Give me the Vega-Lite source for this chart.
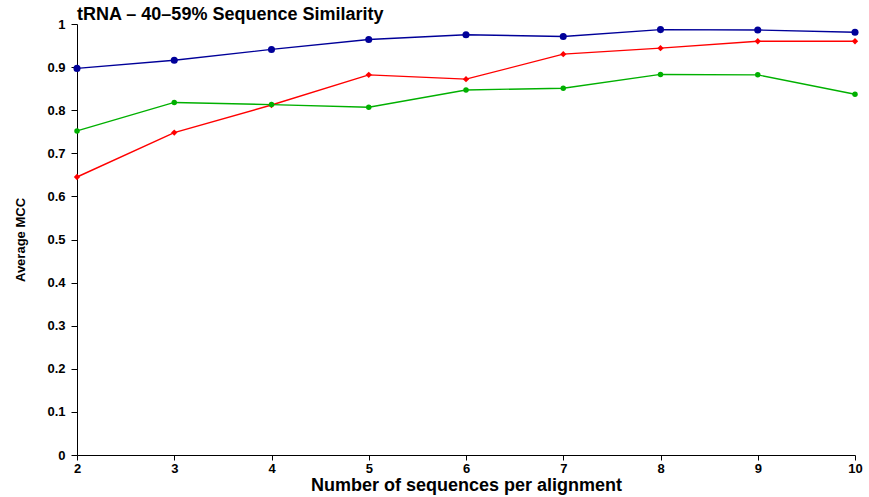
{
  "$schema": "https://vega.github.io/schema/vega-lite/v6.json",
  "width": 778,
  "height": 431,
  "autosize": {"type": "none"},
  "padding": {"left": 77, "top": 24, "right": 14, "bottom": 42},
  "background": "white",
  "title": {
    "text": "tRNA – 40–59% Sequence Similarity",
    "anchor": "start",
    "frame": "group",
    "dx": 0,
    "dy": 24,
    "offset": 4,
    "baseline": "alphabetic",
    "font": "Liberation Sans",
    "fontSize": 18,
    "fontWeight": "bold",
    "color": "black"
  },
  "config": {
    "view": {"stroke": null},
    "axis": {
      "labelFont": "Liberation Sans",
      "titleFont": "Liberation Sans",
      "labelFontWeight": "bold",
      "titleFontWeight": "bold",
      "labelColor": "black",
      "titleColor": "black",
      "domainColor": "black",
      "tickColor": "black",
      "grid": false
    }
  },
  "data": {
    "values": [
      {"n": 2, "series": "A", "mcc": 0.897},
      {"n": 3, "series": "A", "mcc": 0.916},
      {"n": 4, "series": "A", "mcc": 0.941},
      {"n": 5, "series": "A", "mcc": 0.964},
      {"n": 6, "series": "A", "mcc": 0.975},
      {"n": 7, "series": "A", "mcc": 0.971},
      {"n": 8, "series": "A", "mcc": 0.987},
      {"n": 9, "series": "A", "mcc": 0.986},
      {"n": 10, "series": "A", "mcc": 0.981},
      {"n": 2, "series": "B", "mcc": 0.645},
      {"n": 3, "series": "B", "mcc": 0.748},
      {"n": 4, "series": "B", "mcc": 0.812},
      {"n": 5, "series": "B", "mcc": 0.882},
      {"n": 6, "series": "B", "mcc": 0.872},
      {"n": 7, "series": "B", "mcc": 0.930},
      {"n": 8, "series": "B", "mcc": 0.944},
      {"n": 9, "series": "B", "mcc": 0.960},
      {"n": 10, "series": "B", "mcc": 0.960},
      {"n": 2, "series": "C", "mcc": 0.752},
      {"n": 3, "series": "C", "mcc": 0.818},
      {"n": 4, "series": "C", "mcc": 0.813},
      {"n": 5, "series": "C", "mcc": 0.807},
      {"n": 6, "series": "C", "mcc": 0.847},
      {"n": 7, "series": "C", "mcc": 0.851},
      {"n": 8, "series": "C", "mcc": 0.883},
      {"n": 9, "series": "C", "mcc": 0.882},
      {"n": 10, "series": "C", "mcc": 0.837}
    ]
  },
  "encoding": {
    "x": {
      "field": "n",
      "type": "quantitative",
      "scale": {"domain": [2, 10], "nice": false, "zero": false},
      "axis": {
        "title": "Number of sequences per alignment",
        "values": [2, 3, 4, 5, 6, 7, 8, 9, 10],
        "format": "d",
        "labelFontSize": 13,
        "titleFontSize": 18,
        "tickSize": 5,
        "labelPadding": 2,
        "titlePadding": 1,
        "labelFlush": false,
        "labelOverlap": false
      }
    },
    "y": {
      "field": "mcc",
      "type": "quantitative",
      "scale": {"domain": [0, 1], "nice": false},
      "axis": {
        "title": "Average MCC",
        "values": [0, 0.1, 0.2, 0.3, 0.4, 0.5, 0.6, 0.7, 0.8, 0.9, 1],
        "labelExpr": "datum.value == 0 ? '0' : datum.value == 1 ? '1' : format(datum.value, '.1f')",
        "labelFontSize": 13,
        "titleFontSize": 13,
        "tickSize": 6,
        "labelPadding": 6,
        "titlePadding": 19,
        "labelFlush": false,
        "labelOverlap": false
      }
    },
    "color": {
      "field": "series",
      "type": "nominal",
      "scale": {"domain": ["A", "B", "C"], "range": ["#000099", "#ff0000", "#00b000"]},
      "legend": null
    }
  },
  "layer": [
    {"mark": {"type": "line", "strokeWidth": 1.4}},
    {
      "mark": {"type": "point", "filled": true, "opacity": 1},
      "encoding": {
        "shape": {
          "field": "series",
          "type": "nominal",
          "scale": {"domain": ["A", "B", "C"], "range": ["circle", "diamond", "circle"]},
          "legend": null
        },
        "size": {
          "field": "series",
          "type": "nominal",
          "scale": {"domain": ["A", "B", "C"], "range": [50, 30, 50]},
          "legend": null
        }
      }
    }
  ]
}
